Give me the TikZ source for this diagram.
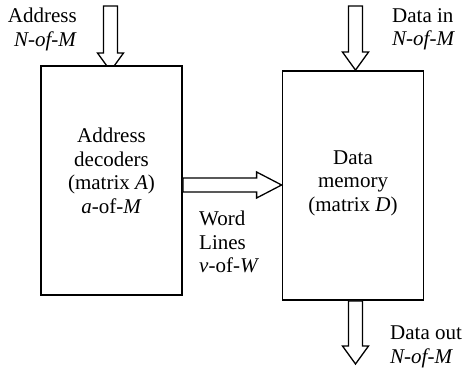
\documentclass[tikz,border=0pt]{standalone}
\usepackage{fontspec}
\setmainfont{Liberation Serif}
\usetikzlibrary{calc,positioning,backgrounds}

\tikzset{
  box/.style={draw,line width=1.8pt,fill=white,minimum width=141pt,minimum height=229pt,inner sep=0pt},
  txt/.style={font=\fontsize{21}{23.5}\selectfont,inner sep=0pt},
  fat/.style={draw,line width=1.3pt,fill=white,line join=miter},
  down arrow/.style={to path={
    ($(\tikztostart)+(-7,0)$) -- ($(\tikztotarget)+(-7,-18)$) -- ($(\tikztotarget)+(-13,-18)$)
    -- (\tikztotarget) -- ($(\tikztotarget)+(13,-18)$) -- ($(\tikztotarget)+(7,-18)$)
    -- ($(\tikztostart)+(7,0)$) -- cycle}},
  right arrow/.style={to path={
    ($(\tikztostart)+(0,-7)$) -- ($(\tikztotarget)+(-25,-7)$) -- ($(\tikztotarget)+(-25,-13)$)
    -- (\tikztotarget) -- ($(\tikztotarget)+(-25,13)$) -- ($(\tikztotarget)+(-25,7)$)
    -- ($(\tikztostart)+(0,7)$) -- cycle}}
}

\begin{document}
\begin{tikzpicture}[x=1pt,y=-1pt]
  \useasboundingbox (0,0) rectangle (465,371);

  % the two blocks
  \node[box] (dec) at (111.5,180.5) {};
  \node[box] (mem) at (353,185.5) {};

  \node[txt,align=center,anchor=north] (dectxt) at ([yshift=-63pt]dec.north)
    {Address\\decoders\\(matrix \textit{A})\\\textit{a}-of-\textit{M}};
  \node[txt,align=center,anchor=north] (memtxt) at ([yshift=-80pt]mem.north)
    {Data\\memory\\(matrix \textit{D})};

  % arrow ends
  \coordinate (addrtop) at (110.5,6);
  \coordinate (addrtip) at (110.5,71);
  \coordinate (dintop)  at (355.5,6);
  \coordinate (douttip) at (355.5,364);
  \coordinate (wl)      at (0,185);

  \begin{scope}[on background layer]
    \draw[fat] (addrtop) to[down arrow] (addrtip);
  \end{scope}
  \draw[fat] (dintop) to[down arrow] (mem.north -| dintop);
  \draw[fat] (mem.south -| dintop) to[down arrow] (douttip);
  \draw[fat] (dec.east |- wl) to[right arrow] (mem.west |- wl);

  % labels
  \node[txt,align=right,anchor=north east] (addrlbl) at (77,8) {Address\\\textit{N-of-M}};
  \node[txt,align=left,anchor=north west] (dinlbl) at (392,8) {Data in\\\textit{N-of-M}};
  \node[txt,align=left,anchor=north west] (doutlbl) at (390,326) {Data out\\\textit{N-of-M}};
  \node[txt,align=left,anchor=north west] (wllbl) at (199,211) {Word\\Lines\\\textit{v}-of-\textit{W}};

\end{tikzpicture}
\end{document}
